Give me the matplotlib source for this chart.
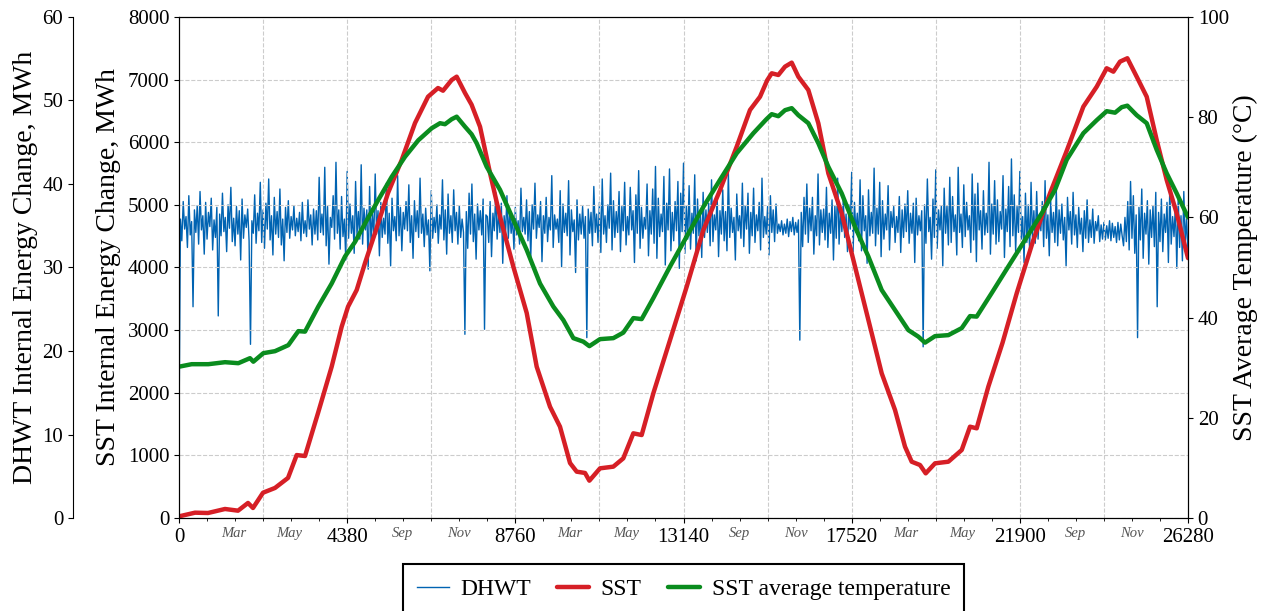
import numpy as np
import matplotlib
matplotlib.use('Agg')
import matplotlib.pyplot as plt
import matplotlib.transforms as mtransforms

plt.rcParams['font.family'] = ['Liberation Serif', 'DejaVu Serif']

# SST internal energy change (MWh)
sst_h = [0, 26, 417, 755, 1198, 1537, 1797, 1927, 2188, 2500, 2839, 3065, 3282, 3620, 3976, 4237,
         4402, 4628, 4845, 5105, 5444, 5800, 6147, 6486, 6746, 6876, 7102, 7232, 7449, 7620, 7840,
         8100, 8361, 8708, 9056, 9316, 9663, 9923, 10184, 10358, 10575, 10688, 10965, 11312, 11572,
         11833, 12050, 12354, 12789, 13223, 13657, 14091, 14525, 14872, 15133, 15320, 15437, 15610,
         15784, 15958, 16131, 16391, 16652, 16912, 17260, 17521, 17781, 18042, 18302, 18649, 18909,
         19083, 19300, 19448, 19691, 20038, 20386, 20602, 20776, 21079, 21450, 21818, 22252, 22686,
         23100, 23554, 23902, 24162, 24336, 24509, 24700, 24943, 25204, 25464, 25725, 25985, 26280]
sst_v = [0, 30, 85, 80, 144, 117, 240, 160, 404, 480, 640, 1005, 990, 1675, 2416, 3055,
         3374, 3641, 4072, 4551, 5190, 5717, 6307, 6727, 6866, 6823, 6994, 7047, 6786, 6600, 6248,
         5509, 4811, 4013, 3273, 2416, 1777, 1458, 878, 740, 719, 596, 793, 820, 953,
         1352, 1325, 1991, 2842, 3694, 4599, 5237, 5929, 6515, 6727, 6990, 7101, 7074,
         7207, 7271, 7047, 6834, 6302, 5504, 4865, 4226, 3588, 2949, 2310, 1724, 1139,
         899, 846, 713, 873, 899, 1086, 1458, 1432, 2097, 2800, 3588, 4439, 5185,
         5830, 6568, 6887, 7181, 7127, 7287, 7341, 7047, 6727, 6036, 5397, 4865, 4150]

# SST average temperature (degC), green curve
tmp_h = [0, 330, 764, 1198, 1545, 1849, 1936, 2196, 2500, 2847, 3108, 3282, 3628, 3976, 4324, 4584,
         4845, 5191, 5540, 5886, 6233, 6582, 6798, 6928, 7102, 7232, 7449, 7620, 7753, 8014, 8361,
         8708, 9056, 9403, 9750, 10010, 10271, 10531, 10688, 10965, 11312, 11572, 11833, 12050,
         12354, 12789, 13223, 13657, 14091, 14525, 14959, 15300, 15437, 15610, 15784, 15958, 16131,
         16391, 16652, 16912, 17260, 17607, 17954, 18302, 18649, 18996, 19256, 19430, 19691, 20038,
         20386, 20602, 20776, 21167, 21600, 22035, 22469, 22816, 23120, 23554, 23902, 24162, 24379,
         24553, 24700, 24943, 25204, 25464, 25725, 25985, 26280]
tmp_v = [30.2, 30.7, 30.7, 31.1, 30.9, 31.9, 31.2, 32.9, 33.3, 34.5, 37.3, 37.2, 42.2, 46.8, 52.2, 55.1,
         58.8, 63.5, 68.1, 72.1, 75.4, 77.8, 78.8, 78.6, 79.6, 80.1, 78.1, 76.6, 74.8, 70.1, 65.5,
         59.5, 53.5, 46.8, 42.2, 39.5, 35.9, 35.2, 34.3, 35.7, 35.9, 37.0, 39.9, 39.7,
         43.9, 50.2, 56.2, 62.1, 67.5, 72.8, 76.8, 79.6, 80.6, 80.2, 81.4, 81.8, 80.4,
         78.8, 74.8, 70.1, 64.8, 58.1, 52.2, 45.5, 41.5, 37.5, 36.2, 35.0, 36.3, 36.5,
         37.9, 40.3, 40.2, 44.9, 50.2, 55.5, 60.8, 65.5, 71.5, 76.8, 79.4, 81.2, 80.9,
         82.0, 82.3, 80.4, 78.8, 73.5, 68.8, 64.8, 60.0]

# DHWT internal energy change (MWh), one value every 36.5 h, per year
dhwt_y1 = [10.5, 35.8, 33.2, 37.9, 34.6, 36.1, 32.4, 38.6, 33.9, 35.5,
           25.3, 36.9, 34.2, 37.4, 32.8, 39.1, 34.5, 36.2, 31.6, 37.8,
           33.4, 36.6, 34.9, 38.3, 32.1, 35.7, 33.6, 37.2, 24.2, 36.4,
           33.8, 38.9, 34.3, 36.0, 31.9, 37.5, 34.7, 39.6, 33.1, 35.9,
           32.6, 37.3, 34.0, 36.8, 30.9, 38.2, 33.5, 36.3, 34.8, 37.0,
           33.2, 20.8, 35.6, 34.1, 38.7, 32.9, 36.5, 34.4, 40.2, 33.0,
           36.9, 32.3, 37.7, 34.6, 40.6, 33.3, 36.2, 31.5, 38.4, 34.0,
           36.7, 33.6, 39.4, 32.7, 35.8, 30.8, 37.2, 34.2, 38.0, 33.5,
           36.1, 34.5, 37.4, 33.8, 35.9, 34.3, 36.6, 33.2, 37.8, 34.1,
           35.6, 33.7, 38.1, 34.6, 36.3, 32.7, 37.0, 34.0, 36.8, 33.3,
           40.8, 34.2, 36.4, 33.9, 42.0, 32.6, 37.3, 30.4, 36.0, 34.8,
           38.6, 33.4, 42.6, 34.1, 36.9, 32.2, 38.5, 33.7, 35.8, 30.9,
           41.5, 33.5, 37.6, 34.1, 36.2, 31.7, 40.3, 33.9, 36.7, 33.4,
           42.3, 32.8, 37.1, 34.5, 36.9, 29.8, 39.7, 33.1, 36.4, 33.7,
           41.2, 34.0, 36.8, 31.4, 37.8, 33.6, 35.9, 34.0, 40.1, 32.9,
           36.5, 30.2, 38.3, 34.4, 36.1, 33.2, 41.0, 33.8, 37.2, 32.0,
           36.6, 34.6, 37.9, 34.4, 39.9, 33.0, 36.2, 31.1, 38.0, 34.3,
           36.8, 33.6, 40.7, 34.1, 36.4, 32.5, 37.1, 33.9, 35.7, 29.6,
           39.2, 33.5, 36.0, 34.2, 37.5, 32.9, 36.3, 34.6, 40.5, 33.3,
           36.9, 31.6, 38.8, 34.1, 36.2, 33.0, 39.3, 34.4, 36.6, 32.8,
           37.4, 33.6, 35.8, 34.2, 22.0, 36.7, 32.3, 38.9, 34.0, 40.0,
           33.1, 36.4, 31.0, 37.6, 34.5, 36.8, 33.9, 38.2, 22.6, 36.3,
           36.1, 33.0, 37.9, 31.3, 36.5, 34.4, 39.0, 33.4, 36.7, 34.2,
           37.7, 30.5, 36.2, 34.0, 38.6, 33.5, 36.9, 34.1, 36.0, 32.2]
dhwt_y2 = [37.2, 33.9, 35.6, 32.8, 39.5, 34.3, 36.0, 34.0, 38.1, 33.2,
           36.7, 31.2, 37.5, 34.6, 40.1, 33.5, 36.3, 34.8, 37.9, 30.7,
           36.2, 34.1, 38.4, 33.1, 36.0, 34.5, 41.0, 32.4, 36.3, 34.6,
           35.8, 33.0, 39.2, 30.1, 37.6, 34.2, 36.5, 33.8, 40.4, 31.5,
           36.9, 34.3, 35.7, 29.4, 38.1, 33.3, 36.4, 34.0, 37.3, 33.5,
           36.1, 21.6, 37.0, 34.1, 36.6, 32.6, 39.7, 34.2, 36.4, 33.0,
           37.8, 31.8, 40.6, 34.0, 36.2, 33.0, 37.5, 34.7, 41.3, 32.1,
           38.0, 33.6, 36.7, 34.2, 39.1, 31.9, 37.3, 34.4, 40.2, 32.7,
           36.1, 33.9, 39.6, 34.5, 36.8, 30.6, 38.7, 34.1, 41.6, 32.3,
           37.2, 33.5, 36.0, 34.6, 40.0, 31.4, 36.8, 34.0, 39.4, 32.9,
           42.1, 31.1, 38.3, 33.7, 36.4, 34.3, 40.9, 30.3, 37.7, 34.5,
           41.8, 32.0, 36.6, 33.2, 37.9, 34.4, 40.3, 29.9, 38.9, 34.3,
           42.5, 31.7, 37.4, 33.4, 39.8, 32.2, 36.5, 34.1, 41.1, 30.8,
           38.2, 33.8, 36.5, 31.2, 39.0, 33.6, 36.9, 34.2, 37.7, 32.6,
           40.5, 33.1, 36.3, 34.5, 38.6, 31.3, 36.8, 34.0, 39.3, 33.2,
           36.7, 32.0, 41.4, 33.6, 37.1, 34.2, 36.0, 30.9, 38.8, 34.4,
           36.2, 33.5, 40.1, 32.5, 37.4, 34.6, 38.9, 31.7, 36.6, 33.8,
           39.5, 33.0, 36.3, 34.4, 37.8, 32.1, 40.7, 33.6, 36.1, 34.0,
           37.3, 31.5, 38.6, 34.2, 36.9, 33.1, 37.6, 34.1, 35.2, 34.3,
           35.6, 33.9, 35.2, 34.1, 35.8, 33.7, 35.5, 34.3, 36.0, 33.9,
           35.4, 34.2, 35.7, 21.3, 36.6, 32.5, 38.4, 34.0, 40.0, 33.0,
           37.1, 34.4, 38.4, 31.6, 36.2, 33.8, 41.2, 32.7, 36.9, 34.2,
           37.0, 33.3, 39.6, 32.4, 36.5, 34.1, 38.1, 30.9, 37.4, 33.5,
           40.7, 32.8, 36.9, 34.3, 38.2, 33.6, 36.4, 31.9, 37.5, 34.6]
dhwt_y3 = [41.4, 31.9, 37.8, 34.2, 36.5, 33.2, 40.5, 32.0, 38.6, 34.4,
           36.2, 30.5, 39.3, 33.8, 36.6, 34.1, 41.9, 32.6, 37.1, 34.0,
           40.2, 31.3, 38.0, 33.4, 36.4, 34.5, 39.8, 32.1, 36.7, 34.8,
           37.3, 33.0, 36.1, 34.2, 38.5, 31.8, 36.9, 33.6, 37.6, 34.3,
           39.2, 32.9, 36.5, 34.1, 37.7, 30.6, 38.3, 33.9, 36.2, 34.4,
           36.8, 20.5, 37.5, 32.9, 40.6, 34.3, 36.0, 31.0, 38.2, 33.6,
           41.7, 32.3, 36.9, 34.5, 37.4, 30.2, 39.5, 34.1, 37.4, 32.7,
           40.8, 33.0, 38.5, 34.3, 36.3, 31.5, 42.0, 34.2, 36.4, 32.4,
           39.9, 33.7, 37.8, 34.5, 36.2, 31.8, 41.2, 33.3, 38.8, 30.7,
           40.1, 34.5, 36.8, 32.2, 39.2, 33.9, 36.5, 34.2, 42.6, 31.6,
           37.6, 34.0, 40.4, 32.8, 38.1, 33.1, 36.7, 34.6, 41.0, 31.2,
           37.0, 34.3, 39.7, 32.5, 43.0, 33.8, 38.7, 31.9, 37.3, 34.2,
           41.5, 33.4, 36.1, 30.6, 38.9, 33.0, 37.5, 31.8, 40.2, 33.6,
           36.8, 32.9, 39.1, 33.4, 36.4, 34.4, 37.9, 32.5, 40.4, 33.5,
           36.3, 31.4, 38.0, 34.2, 36.6, 33.0, 39.4, 32.6, 36.9, 34.1,
           37.6, 33.3, 36.0, 30.2, 38.4, 34.5, 36.7, 32.8, 39.0, 33.9,
           36.3, 32.4, 37.2, 34.0, 35.9, 31.9, 36.8, 33.5, 38.1, 33.0,
           35.7, 33.6, 37.0, 32.9, 35.5, 34.4, 36.2, 33.1, 35.1, 33.4,
           35.4, 33.3, 35.0, 33.5, 35.6, 33.2, 35.3, 33.6, 34.9, 33.0,
           35.4, 33.3, 35.2, 33.8, 32.6, 36.0, 33.1, 37.9, 32.1, 40.3,
           33.5, 38.6, 31.7, 36.3, 21.6, 37.2, 33.3, 39.4, 31.1, 36.5,
           34.0, 38.0, 30.4, 36.9, 33.6, 37.4, 32.5, 39.0, 25.3, 36.6,
           33.1, 38.2, 31.9, 36.4, 34.2, 37.8, 30.6, 39.6, 32.8, 36.1,
           33.7, 37.5, 29.9, 38.4, 32.4, 36.2, 30.8, 39.1, 33.0, 35.8,
           31.5]

# month labels shown between the major ticks (hour of month start)
month_names = ['Mar', 'May', 'Sep', 'Nov']
month_start = [1416, 2880, 5832, 7296]

dhwt = dhwt_y1 + dhwt_y2 + dhwt_y3
dhwt_h = np.linspace(0, 26280, len(dhwt))

c_blue = '#0063B2'
c_red = '#D61F26'
c_green = '#0A8C1E'

fig = plt.figure(figsize=(12.66, 6.11), dpi=100)
ax = fig.add_axes([0.1414, 0.1522, 0.797, 0.82])
ax_d = ax.twinx()
ax_t = ax.twinx()

# drawing order: DHWT under SST under temperature
ax_d.set_zorder(1)
ax.set_zorder(2)
ax_t.set_zorder(3)
for a in (ax, ax_d, ax_t):
    a.patch.set_visible(False)

l_d, = ax_d.plot(dhwt_h, dhwt, color=c_blue, lw=1.0, label='DHWT')
l_s, = ax.plot(sst_h, sst_v, color=c_red, lw=3.2, label='SST', solid_capstyle='round')
l_t, = ax_t.plot(tmp_h, tmp_v, color=c_green, lw=3.2, label='SST average temperature',
                 solid_capstyle='round')

ax.set_xlim(0, 26280)
ax.set_ylim(0, 8000)
ax_d.set_ylim(0, 60)
ax_t.set_ylim(0, 100)

ax.set_xticks(np.arange(0, 26281, 4380))
ax.set_xticks(np.arange(0, 26281, 730), minor=True)
ax.set_yticks(np.arange(0, 8001, 1000))
ax_t.set_yticks(np.arange(0, 101, 20))
ax_d.set_yticks(np.arange(0, 61, 10))

# grid
ax.grid(axis='y', color='#cccccc', linestyle='--', linewidth=0.8)
for xv in np.arange(2190, 26280, 2190):
    ax.axvline(xv, color='#cccccc', linestyle='--', linewidth=0.8, zorder=0)

# outer DHWT axis on the left
ax_d.spines['left'].set_position(('axes', -0.105))
ax_d.spines['left'].set_visible(True)
ax_d.spines['right'].set_visible(False)
ax_d.spines['top'].set_visible(False)
ax_d.spines['bottom'].set_visible(False)
ax_d.yaxis.set_label_position('left')
ax_d.yaxis.set_ticks_position('left')

for a in (ax, ax_d, ax_t):
    a.tick_params(labelsize=15)

ax.set_ylabel('SST Internal Energy Change, MWh', fontsize=20)
ax_d.set_ylabel('DHWT Internal Energy Change, MWh', fontsize=20)
ax_t.set_ylabel('SST Average Temperature (°C)', fontsize=20)
ax.yaxis.set_label_coords(-0.0575, 0.5)
ax_d.yaxis.set_label_coords(-0.1397, 0.5)
ax_t.yaxis.set_label_coords(1.0447, 0.5)

# month names under the axis
trans = mtransforms.blended_transform_factory(ax.transData, ax.transAxes)
for yr in range(3):
    for name, h in zip(month_names, month_start):
        ax.text(h + 8760 * yr, -0.018, name, transform=trans, ha='center', va='top',
                fontsize=10.5, style='italic', color='#555555')

leg = ax.legend(handles=[l_d, l_s, l_t], loc='upper center', bbox_to_anchor=(0.5, -0.092),
                ncol=3, fontsize=17, frameon=True, fancybox=False, edgecolor='black',
                framealpha=1, handlelength=1.35, handletextpad=0.5, columnspacing=1.1,
                borderpad=0.6, borderaxespad=0)
leg.get_frame().set_linewidth(1.5)

fig.savefig('out.png', dpi=100)
